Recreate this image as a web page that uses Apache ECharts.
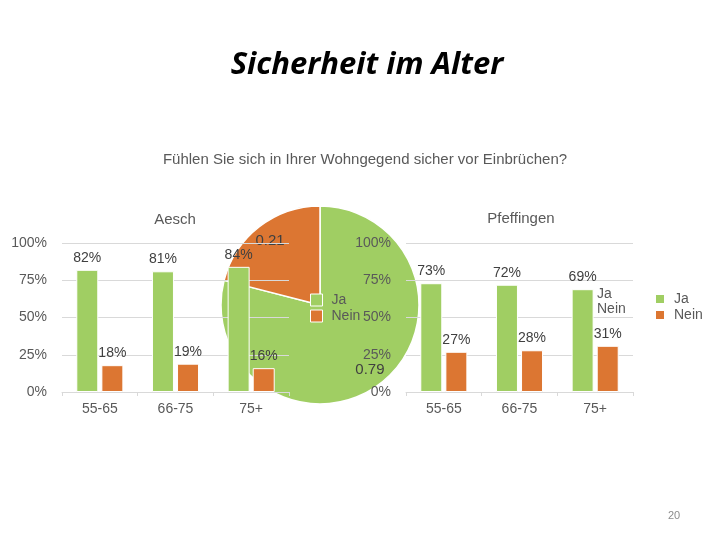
<!DOCTYPE html>
<html><head><meta charset="utf-8">
<script src="https://cdn.jsdelivr.net/npm/echarts@6/dist/echarts.min.js"></script>
<style>html,body{margin:0;padding:0;background:#fff}#c{width:720px;height:540px}</style>
</head><body><div id="c"></div>
<script>
const categories = ['55-65', '66-75', '75+'];
const seriesNames = ['Ja', 'Nein'];
const aeschJa = [82, 81, 84];
const aeschNein = [18, 19, 16];
const pfeffJa = [73, 72, 69];
const pfeffNein = [27, 28, 31];
const pieValues = [0.79, 0.21];
const yTicks = [0, 25, 50, 75, 100];

const GREEN = '#a0ce63', ORANGE = '#dc7632';
const FONT = 'Liberation Sans';
const chart = echarts.init(document.getElementById('c'));

function yAxis(gi) {
  return {
    gridIndex: gi, type: 'value', min: yTicks[0], max: yTicks[yTicks.length - 1], interval: yTicks[1] - yTicks[0], z: 3,
    axisLabel: { formatter: '{value}%', color: '#595959', fontSize: 14, fontFamily: FONT, margin: 15 },
    splitLine: { lineStyle: { color: '#d9d9d9', width: 1 } },
    axisLine: { show: false }, axisTick: { show: false }
  };
}
function xAxis(gi) {
  return {
    gridIndex: gi, type: 'category', data: categories, z: 3,
    axisLabel: { color: '#595959', fontSize: 14, fontFamily: FONT, margin: 10 },
    axisLine: { lineStyle: { color: '#d9d9d9' } },
    axisTick: { show: true, length: 4, lineStyle: { color: '#d9d9d9' } }
  };
}
function bars(name, data, color, gi) {
  return {
    type: 'bar', name: name, data: data, xAxisIndex: gi, yAxisIndex: gi, z: 4,
    barWidth: 22, barGap: '14%',
    itemStyle: { color: color, borderColor: '#ffffff', borderWidth: 1 },
    label: { show: true, position: 'top', distance: 5, formatter: '{c}%', color: '#404040', fontSize: 14, fontFamily: FONT }
  };
}
const pieData = seriesNames.map((n, i) => ({ name: n, value: pieValues[i], itemStyle: { color: i === 0 ? GREEN : ORANGE } }));

chart.setOption({
  animation: false,
  backgroundColor: '#ffffff',
  title: [
    { text: 'Sicherheit im Alter', left: 362, top: 45, textAlign: 'center',
      textStyle: { fontFamily: 'Open Sans', fontStyle: 'italic', fontWeight: 'bold', fontSize: 31, color: '#000' } },
    { text: 'Fühlen Sie sich in Ihrer Wohngegend sicher vor Einbrüchen?', left: 360, top: 147, textAlign: 'center',
      textStyle: { fontFamily: FONT, fontWeight: 'normal', fontSize: 15, color: '#595959' } },
    { text: 'Aesch', left: 170, top: 207, textAlign: 'center',
      textStyle: { fontFamily: FONT, fontWeight: 'normal', fontSize: 15, color: '#595959' } },
    { text: 'Pfeffingen', left: 516, top: 206, textAlign: 'center',
      textStyle: { fontFamily: FONT, fontWeight: 'normal', fontSize: 15, color: '#595959' } },
    { text: '20', left: 669, top: 505, textAlign: 'center',
      textStyle: { fontFamily: FONT, fontWeight: 'normal', fontSize: 11, color: '#8c8c8c' } }
  ],
  legend: [
    { data: seriesNames, orient: 'vertical', left: 649, top: 287, itemWidth: 10, itemHeight: 10, itemGap: 2, icon: 'rect',
      textStyle: { color: '#595959', fontSize: 14, fontFamily: FONT, padding: [0, 0, 0, 4] }, z: 5 },
    { data: seriesNames, orient: 'vertical', left: 305, top: 288, itemWidth: 12, itemHeight: 12, itemGap: 2, icon: 'rect',
      itemStyle: { borderColor: '#fff', borderWidth: 1 },
      textStyle: { color: '#595959', fontSize: 14, fontFamily: FONT, padding: [0, 0, 0, 4] }, z: 3 },
    { data: seriesNames, orient: 'vertical', left: 576, top: 282, itemWidth: 10, itemHeight: 10, itemGap: 1, icon: 'circle',
      textStyle: { color: '#595959', fontSize: 14, fontFamily: FONT }, z: 1 }
  ],
  grid: [
    { left: 62, top: 243, width: 227, height: 149 },
    { left: 406, top: 243, width: 227, height: 149 }
  ],
  xAxis: [xAxis(0), xAxis(1)],
  yAxis: [yAxis(0), yAxis(1)],
  series: [
    { type: 'pie', name: 'Pie', center: [320, 305], radius: [0, 99], z: 2, silent: true,
      data: pieData, label: { show: false }, labelLine: { show: false },
      itemStyle: { borderColor: '#ffffff', borderWidth: 1.5 } },
    { type: 'pie', name: 'PieLabels', center: [320, 305], radius: [58, 99], z: 2, silent: true,
      data: pieData.map(d => ({ name: d.name, value: d.value, itemStyle: { color: 'rgba(0,0,0,0)' } })),
      label: { show: true, position: 'inside', formatter: p => p.value.toFixed(2), color: '#404040', fontSize: 15, fontFamily: FONT },
      labelLine: { show: false } },
    bars('Ja', aeschJa, GREEN, 0),
    bars('Nein', aeschNein, ORANGE, 0),
    bars('Ja', pfeffJa, GREEN, 1),
    bars('Nein', pfeffNein, ORANGE, 1)
  ]
});
</script></body></html>
